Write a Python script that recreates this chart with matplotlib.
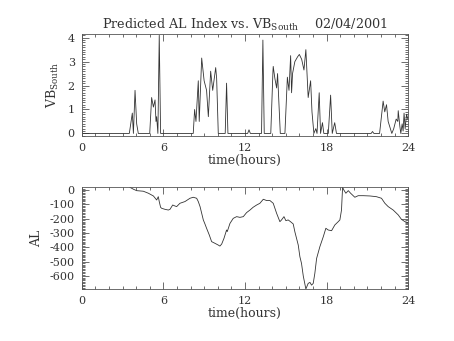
import numpy as np
import matplotlib.pyplot as plt
from matplotlib.ticker import MultipleLocator

plt.rcParams['font.family'] = 'DejaVu Serif'
plt.rcParams['mathtext.fontset'] = 'dejavuserif'

# VB south (hours, value), zero between bursts
vb_hours = [0.0, 3.5, 3.72, 3.8, 3.92, 4.04, 4.16, 5.0, 5.14, 5.27, 5.39, 5.46, 5.51, 5.6,
            5.7, 5.8, 8.2, 8.3, 8.4, 8.57, 8.64, 8.82, 9.0, 9.18, 9.31, 9.48, 9.63, 9.85,
            9.92, 10.04, 10.55, 10.65, 10.75, 12.2, 12.3, 12.4, 13.22, 13.32, 13.42, 13.9,
            14.06, 14.08, 14.2, 14.33, 14.4, 14.6, 14.94, 15.12, 15.24, 15.36, 15.43, 15.5,
            15.67, 15.87, 16.0, 16.17, 16.34, 16.48, 16.65, 16.83, 16.93, 17.07, 17.21,
            17.3, 17.46, 17.56, 17.7, 17.8, 17.97, 18.13, 18.3, 18.42, 18.6, 18.73, 21.28,
            21.38, 21.48, 21.9, 22.16, 22.28, 22.41, 22.53, 22.8, 22.94, 23.12, 23.24,
            23.27, 23.39, 23.46, 23.56, 23.63, 23.7, 23.78, 23.88, 23.98]
vb_values = [0.0, 0.0, 0.85, 0.0, 1.8, 0.4, 0.0, 0.0, 1.5, 1.1, 1.4, 0.5, 0.7, 0.0,
             4.1, 0.0, 0.0, 1.0, 0.5, 2.2, 0.5, 3.15, 2.2, 1.8, 0.7, 2.6, 1.8, 2.75,
             2.3, 0.0, 0.0, 2.1, 0.0, 0.0, 0.15, 0.0, 0.0, 3.9, 0.0, 0.0,
             2.6, 2.8, 2.3, 1.9, 2.5, 0.0, 0.0, 2.35, 1.8, 3.25, 1.7, 2.5,
             3.0, 3.2, 3.3, 3.1, 2.65, 3.5, 1.5, 2.2, 0.9, 0.0, 0.2,
             0.0, 1.7, 0.0, 0.45, 0.0, 0.0, 0.0, 1.6, 0.0, 0.45, 0.0, 0.0,
             0.08, 0.0, 0.0, 1.35, 0.9, 1.2, 0.5, 0.0, 0.2, 0.6, 0.5,
             0.95, 0.3, 0.0, 0.4, 0.1, 0.85, 0.2, 0.8, 0.6]

# predicted AL index (hours, nT)
al_hours = [3.55, 3.8, 4.04, 4.53, 4.9, 5.27, 5.51, 5.63, 5.7, 5.8, 5.88, 6.12, 6.37, 6.49,
            6.69, 6.86, 6.98, 7.22, 7.59, 7.96, 8.2, 8.45, 8.57, 8.7, 8.94, 9.06, 9.18,
            9.38, 9.55, 9.8, 10.04, 10.16, 10.29, 10.46, 10.65, 10.7, 10.9, 11.14, 11.39,
            11.63, 11.88, 12.12, 12.37, 12.6, 12.86, 13.1, 13.35, 13.6, 13.84, 14.08, 14.33,
            14.57, 14.69, 14.87, 15.01, 15.18, 15.35, 15.55, 15.67, 15.92, 16.04, 16.16,
            16.29, 16.48, 16.65, 16.78, 16.9, 17.02, 17.14, 17.27, 17.51, 17.76, 17.95,
            18.12, 18.37, 18.61, 18.86, 18.98, 19.1, 19.18, 19.27, 19.42, 19.6, 19.77,
            20.08, 20.33, 20.7, 21.19, 21.67, 22.04, 22.29, 22.53, 22.9, 23.27, 23.51,
            23.76, 24.0]
al_values = [18, 5, -5, -9, -23, -42, -70, -47, -81, -121, -128, -135, -140, -135,
             -105, -112, -116, -93, -81, -58, -51, -58, -81, -116, -209, -237, -267,
             -314, -360, -372, -384, -391, -377, -337, -279, -290, -233, -198, -186,
             -191, -186, -158, -140, -121, -105, -93, -65, -74, -74, -93, -163,
             -221, -209, -186, -214, -209, -221, -237, -291, -384, -465, -512,
             -600, -690, -651, -644, -663, -651, -581, -477, -395, -326, -267,
             -279, -284, -244, -221, -209, -140, 19, 0, -23, -5, -23,
             -51, -40, -40, -42, -47, -58, -93, -116, -140, -174, -205,
             -221, -228]

fig = plt.figure(figsize=(4.54, 3.41), dpi=100)
ax1 = fig.add_axes([0.18, 0.601, 0.719, 0.299])
ax2 = fig.add_axes([0.18, 0.1525, 0.719, 0.2985])

ink = '#333333'
ax1.plot(vb_hours, vb_values, color=ink, lw=0.6)
ax2.plot(al_hours, al_values, color=ink, lw=0.6)

ax1.set_xlim(0, 24)
ax1.set_ylim(-0.11, 4.15)
ax2.set_xlim(0, 24)
ax2.set_ylim(-690, 19)

for ax in (ax1, ax2):
    ax.xaxis.set_major_locator(MultipleLocator(6))
    ax.xaxis.set_minor_locator(MultipleLocator(1))
    ax.tick_params(which='both', direction='in', top=True, right=True,
                   labelsize=8, colors=ink, width=0.5, pad=5)
    ax.tick_params(which='major', length=5)
    ax.tick_params(which='minor', length=2.5)
    for s in ax.spines.values():
        s.set_linewidth(0.6)
        s.set_color('#555555')
    ax.set_xlabel('time(hours)', fontsize=9, color=ink, labelpad=1)

ax1.yaxis.set_major_locator(MultipleLocator(1))
ax1.yaxis.set_minor_locator(MultipleLocator(0.1))
ax2.yaxis.set_major_locator(MultipleLocator(100))
ax2.yaxis.set_minor_locator(MultipleLocator(10))
ax2.yaxis.set_major_formatter(plt.FuncFormatter(lambda v, p: '%d' % v))

ax1.set_ylabel(r'VB$_{\rm South}$', fontsize=9, color=ink, labelpad=5)
ax2.set_ylabel('AL', fontsize=9, color=ink, labelpad=5)
ax1.set_title(r'Predicted AL Index vs. VB$_{\rm South}$    02/04/2001',
              fontsize=9.2, color=ink, pad=4)

fig.savefig('out.png', dpi=100)
